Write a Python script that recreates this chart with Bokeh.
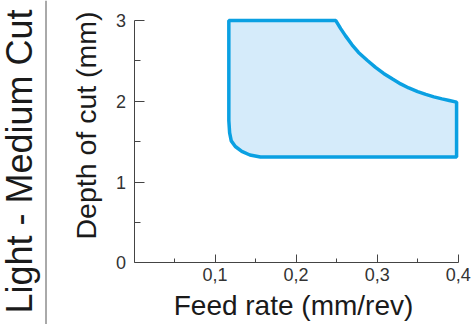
import math
from bokeh.plotting import figure
from bokeh.models import Range1d, FixedTicker, Label, Span
from bokeh.embed import file_html
from bokeh.resources import INLINE

# ---- data ----
feed = [0.117, 0.117, 0.118, 0.120, 0.125, 0.133, 0.143, 0.156,
        0.398, 0.398, 0.389, 0.380, 0.370, 0.360, 0.350, 0.339, 0.329, 0.319, 0.308,
        0.298, 0.288, 0.277, 0.269, 0.261, 0.255, 0.249, 0.117]
depth = [3.00, 1.76, 1.61, 1.51, 1.44, 1.38, 1.335, 1.31,
         1.31, 1.99, 2.01, 2.03, 2.055, 2.085, 2.12, 2.165, 2.215, 2.275, 2.345,
         2.42, 2.505, 2.605, 2.70, 2.81, 2.90, 3.00, 3.00]

x_ticks = [0.1, 0.2, 0.3, 0.4]
x_tick_labels = ["0,1", "0,2", "0,3", "0,4"]
x_minor = [0.05, 0.15, 0.25, 0.35]
y_ticks = [0, 1, 2, 3]
y_tick_labels = ["0", "1", "2", "3"]
y_minor = [0.5, 1.5, 2.5]

side_label = "Light - Medium Cut"
x_label = "Feed rate (mm/rev)"
y_label = "Depth of cut (mm)"

FONT = "Liberation Sans"
AXIS_COLOR = "#444444"
TEXT_COLOR = "#1a1a1a"
W, H = 473, 324

# pixel layout of the plotting area inside the window
X0_PX, X_PX_PER_UNIT = 133.5, 810.5     # x = 0 position, px per mm/rev
Y0_PX, Y_PX_PER_UNIT = 262.3, 80.75     # y = 0 position (from top), px per mm

x_range = Range1d(-X0_PX / X_PX_PER_UNIT, (W - X0_PX) / X_PX_PER_UNIT)
y_range = Range1d(-(H - Y0_PX) / Y_PX_PER_UNIT, Y0_PX / Y_PX_PER_UNIT)

p = figure(width=W, height=H, x_range=x_range, y_range=y_range,
           output_backend="svg", toolbar_location=None, min_border=0)
p.grid.visible = False
p.outline_line_color = None

p.patch(feed, depth, fill_color="#d5ebfa", line_color="#0aa0e2", line_width=3.5)

p.xaxis.fixed_location = 0
p.yaxis.fixed_location = 0
p.xaxis.bounds = (0, 0.4)
p.yaxis.bounds = (0, 3)
p.xaxis.ticker = FixedTicker(ticks=x_ticks, minor_ticks=x_minor)
p.yaxis.ticker = FixedTicker(ticks=y_ticks, minor_ticks=y_minor)
p.xaxis.major_label_overrides = {t: l for t, l in zip(x_ticks, x_tick_labels)}
p.yaxis.major_label_overrides = {t: l for t, l in zip(y_ticks, y_tick_labels)}

for ax in (p.xaxis[0], p.yaxis[0]):
    ax.axis_line_color = AXIS_COLOR
    ax.major_tick_line_color = AXIS_COLOR
    ax.minor_tick_line_color = AXIS_COLOR
    ax.major_tick_out = 0
    ax.minor_tick_out = 0
    ax.major_label_text_font = FONT
    ax.major_label_text_font_size = "18px"
    ax.major_label_text_color = "#333333"

p.yaxis.major_tick_in = 10
p.yaxis.minor_tick_in = 6
p.yaxis.major_label_standoff = 8

p.xaxis.major_tick_in = 8
p.xaxis.minor_tick_in = 4
p.xaxis.major_label_standoff = 5

# axis titles, side title and separator (screen units; frame covers the whole window)
p.add_layout(Label(x=293, y=H - 305, x_units="screen", y_units="screen",
                   text=x_label, text_align="center", text_baseline="alphabetic",
                   text_font=FONT, text_font_size="28px", text_color=TEXT_COLOR))
p.add_layout(Label(x=85, y=H - 125, x_units="screen", y_units="screen",
                   text=y_label, angle=math.pi / 2, text_align="center",
                   text_baseline="alphabetic", text_font=FONT, text_font_size="28.5px",
                   text_color=TEXT_COLOR))
p.add_layout(Label(x=19, y=H - 161, x_units="screen", y_units="screen",
                   text=side_label, angle=math.pi / 2, text_align="center",
                   text_baseline="alphabetic", text_font=FONT, text_font_size="36px",
                   text_color=TEXT_COLOR))
p.add_layout(Span(location=45.5, location_units="screen", dimension="height",
                  line_color="#555555", line_width=1))

open("out.html", "w").write(file_html(p, INLINE))
